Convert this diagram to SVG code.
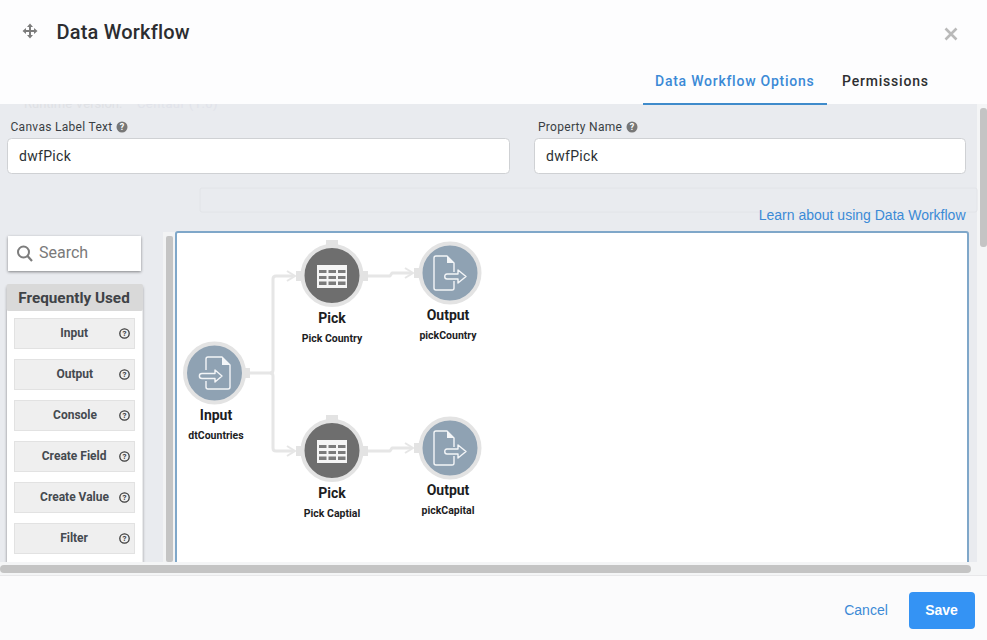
<svg xmlns="http://www.w3.org/2000/svg" width="987" height="640" viewBox="0 0 987 640">
<style>
text{font-family:Roboto,"Liberation Sans",sans-serif}
.conn{fill:none;stroke:#e6e6e6;stroke-width:3;stroke-linejoin:round}
.head{fill:none;stroke:#e6e6e6;stroke-width:2}
.port{fill:#e3e3e3}
.ring{stroke:#e3e3e3;stroke-width:4}
.t1{font-size:14px;font-weight:700;fill:#1d1d1f;text-anchor:middle}
.t2{font-size:10.5px;font-weight:700;fill:#1d1d1f;text-anchor:middle}
.ico{fill:none;stroke:#f4f6f8;stroke-width:1.4;stroke-linejoin:round}
.item{fill:#efefef;stroke:#e2e2e2;stroke-width:1}
.itxt{font-size:12px;font-weight:700;fill:#454a50;text-anchor:end}
.hlp{fill:none;stroke:#3c3c3c;stroke-width:1.3}
.hq{font-size:8px;font-weight:700;fill:#3c3c3c;text-anchor:middle}
.lbl{font-size:12px;fill:#3a3f44;letter-spacing:.3px}
.inp{fill:#fff;stroke:#cfd1d4;stroke-width:1}
.val{font-size:14px;fill:#2b2f33;letter-spacing:.3px}
.q{fill:#777}
.qt{font-size:9px;font-weight:700;fill:#fff;text-anchor:middle}
</style>
<defs>
<filter id="sh" x="-10%" y="-10%" width="120%" height="120%"><feDropShadow dx="0" dy="1" stdDeviation="1.500" flood-color="#000" flood-opacity=".45"/></filter>
<g id="doc-out"><path class="ico" d="M4 -1V-10L-3 -17H-14Q-16 -17 -16 -15V15Q-16 17 -14 17H2Q4 17 4 15V8"/><path d="M-3 -17L4 -10H-3Z" fill="#f4f6f8"/><path class="ico" d="M-3 1H8V-3L16 3.500L8 10V6H-3C-6 6 -6 1 -3 1Z"/></g>
<g id="grid"><rect x="-15" y="-11.500" width="30" height="23" fill="#f5f5f5"/><g fill="#7b7b7b"><rect x="-13" y="-6.500" width="7.500" height="3"/><rect x="-3.500" y="-6.500" width="7.500" height="3"/><rect x="6" y="-6.500" width="7.500" height="3"/><rect x="-13" y="-0.500" width="7.500" height="3"/><rect x="-3.500" y="-0.500" width="7.500" height="3"/><rect x="6" y="-0.500" width="7.500" height="3"/><rect x="-13" y="5" width="7.500" height="3.500"/><rect x="-3.500" y="5" width="7.500" height="3.500"/><rect x="6" y="5" width="7.500" height="3.500"/></g></g>
</defs>
<rect width="987" height="640" fill="#fdfdfe"/>
<g id="panel">
<rect x="0" y="104" width="987" height="458" fill="#e9ebef"/>
<text x="24" y="108" font-size="13" fill="#dfe1e5">Runtime Version:</text>
<text x="137" y="108" font-size="13" fill="#e1e3ea" letter-spacing=".4">Centaur (1.0)</text>
<rect x="0" y="90" width="640" height="14" fill="#fdfdfe"/>
<rect x="977" y="104" width="10" height="458" fill="#f4f5f6"/>
<rect x="980" y="108" width="7" height="139" rx="3" fill="#c4c4c4"/>
<rect x="200" y="188" width="777" height="24" rx="2" fill="#e9ebef" stroke="#e2e4e8"/>
</g>
<g id="header">
<path d="M30 23.500L33 27H31V30H34V28L37.500 31L34 34V32H31V35H33L30 38.500L27 35H29V32H26V34L22.500 31L26 28V30H29V27H27Z" fill="#7c7c7c"/>
<text x="56.500" y="39" font-size="20" font-weight="500" fill="#2c2d30" letter-spacing=".2">Data Workflow</text>
<path d="M945.500 28.500L956.500 39.500M956.500 28.500L945.500 39.500" stroke="#b9b9b9" stroke-width="2.600" fill="none"/>
</g>
<g id="tabs">
<text x="655" y="86" font-size="14" font-weight="500" fill="#3b8ad6" letter-spacing=".75">Data Workflow Options</text>
<rect x="643" y="103" width="184" height="2" fill="#3f8bcb"/>
<text x="842" y="86" font-size="14" font-weight="500" fill="#2e2f31" letter-spacing=".8">Permissions</text>
</g>
<g id="field-canvas-label">
<text class="lbl" x="10.500" y="131">Canvas Label Text</text>
<circle class="q" cx="122" cy="127" r="5.500"/><text class="qt" x="122" y="130">?</text>
<rect class="inp" x="7.500" y="138.500" width="502" height="35" rx="4"/>
<text class="val" x="19" y="161">dwfPick</text>
</g>
<g id="field-property-name">
<text class="lbl" x="538" y="131">Property Name</text>
<circle class="q" cx="632" cy="127" r="5.500"/><text class="qt" x="632" y="130">?</text>
<rect class="inp" x="534.500" y="138.500" width="431" height="35" rx="4"/>
<text class="val" x="546" y="161">dwfPick</text>
</g>
<text id="learn-link" x="965.500" y="220" font-size="14" fill="#3b8ad6" text-anchor="end" style="font-family:'Liberation Sans',sans-serif">Learn about using Data Workflow</text>
<g id="search">
<rect x="8" y="236" width="133" height="35" fill="#fff" filter="url(#sh)"/>
<circle cx="23.500" cy="252" r="5.500" fill="none" stroke="#7d7d7d" stroke-width="2"/>
<path d="M27.500 256L32 261" stroke="#7d7d7d" stroke-width="2.200"/>
<text x="39" y="258" font-size="16" fill="#7a7a7a">Search</text>
</g>
<g id="palette">
<rect x="7" y="286" width="135.500" height="290" fill="#fff" filter="url(#sh)"/>
<rect x="6.500" y="284" width="136.500" height="27" rx="2" fill="#d9d9d9"/>
<text x="74" y="303" font-size="15.300" font-weight="700" fill="#3f4347" text-anchor="middle">Frequently Used</text>
<g id="item-input"><rect class="item" x="14.500" y="318.500" width="120" height="30"/><text class="itxt" x="88" y="337">Input</text><circle class="hlp" cx="124.500" cy="333.500" r="4.700"/><text class="hq" x="124.500" y="336.300">?</text></g>
<g id="item-output"><rect class="item" x="14.500" y="359.500" width="120" height="30"/><text class="itxt" x="93" y="378">Output</text><circle class="hlp" cx="124.500" cy="374.500" r="4.700"/><text class="hq" x="124.500" y="377.300">?</text></g>
<g id="item-console"><rect class="item" x="14.500" y="400.500" width="120" height="30"/><text class="itxt" x="97" y="419">Console</text><circle class="hlp" cx="124.500" cy="415.500" r="4.700"/><text class="hq" x="124.500" y="418.300">?</text></g>
<g id="item-create-field"><rect class="item" x="14.500" y="441.500" width="120" height="30"/><text class="itxt" x="106.500" y="460">Create Field</text><circle class="hlp" cx="124.500" cy="456.500" r="4.700"/><text class="hq" x="124.500" y="459.300">?</text></g>
<g id="item-create-value"><rect class="item" x="14.500" y="482.500" width="120" height="30"/><text class="itxt" x="109" y="501">Create Value</text><circle class="hlp" cx="124.500" cy="497.500" r="4.700"/><text class="hq" x="124.500" y="500.300">?</text></g>
<g id="item-filter"><rect class="item" x="14.500" y="523.500" width="120" height="30"/><text class="itxt" x="88" y="542">Filter</text><circle class="hlp" cx="124.500" cy="538.500" r="4.700"/><text class="hq" x="124.500" y="541.300">?</text></g>
</g>
<g id="canvas">
<rect x="163" y="232" width="12" height="330" fill="#f2f3f4"/>
<rect x="166" y="236" width="7" height="326" rx="2" fill="#c4c4c4"/>
<path d="M176 570V234Q176 232 178 232H966Q968 232 968 234V570H176Z" fill="#fff" stroke="#7fa7c9" stroke-width="2"/>
</g>
<g id="connectors">
<path class="conn" d="M250 373H270Q273 373 273 370V279Q273 276 276 276H293"/>
<path class="conn" d="M270 373Q273 373 273 376V448Q273 451 276 451H293"/>
<path class="conn" d="M368 276H390L392 273H412"/>
<path class="conn" d="M368 451H390L392 448H412"/>
<path class="head" d="M287 271L295 276L287 281"/>
<path class="head" d="M287 446L295 451L287 456"/>
<path class="head" d="M405 268L413 273L405 278"/>
<path class="head" d="M405 443L413 448L405 453"/>
</g>
<g id="node-input">
<rect class="port" x="244" y="368" width="6" height="10"/>
<circle class="ring" cx="214.500" cy="373" r="29.500" fill="#8fa2b3"/>
<path class="ico" d="M206 370V359Q206 357 208 357H222L230 365V387Q230 389 228 389H208Q206 389 206 387V381"/>
<path d="M222 357L230 365H222Z" fill="#f4f6f8"/>
<path class="ico" d="M202 373.500H215V370L222 376L215 382V378.500H202C198.500 378.500 198.500 373.500 202 373.500Z"/>
<text class="t1" x="216" y="420">Input</text>
<text class="t2" x="216" y="439">dtCountries</text>
</g>
<g id="node-pick-country">
<rect class="port" x="326" y="240" width="12" height="6"/>
<rect class="port" x="296" y="271" width="6" height="10"/>
<rect class="port" x="362" y="271" width="6" height="10"/>
<circle class="ring" cx="332" cy="275.500" r="29.500" fill="#6e6e6e"/>
<use href="#grid" x="332" y="276.500"/>
<text class="t1" x="332" y="323">Pick</text>
<text class="t2" x="332" y="342">Pick Country</text>
</g>
<g id="node-output-country">
<rect class="port" x="414" y="268" width="6" height="10"/>
<circle class="ring" cx="450" cy="273" r="29.500" fill="#8fa2b3"/>
<use href="#doc-out" x="450" y="273"/>
<text class="t1" x="448" y="320">Output</text>
<text class="t2" x="448" y="339">pickCountry</text>
</g>
<g id="node-pick-capital">
<rect class="port" x="326" y="415" width="12" height="6"/>
<rect class="port" x="296" y="446" width="6" height="10"/>
<rect class="port" x="362" y="446" width="6" height="10"/>
<circle class="ring" cx="332" cy="450.500" r="29.500" fill="#6e6e6e"/>
<use href="#grid" x="332" y="451.500"/>
<text class="t1" x="332" y="498">Pick</text>
<text class="t2" x="332" y="517">Pick Captial</text>
</g>
<g id="node-output-capital">
<rect class="port" x="414" y="443" width="6" height="10"/>
<circle class="ring" cx="450" cy="448" r="29.500" fill="#8fa2b3"/>
<use href="#doc-out" x="450" y="448"/>
<text class="t1" x="448" y="495">Output</text>
<text class="t2" x="448" y="514">pickCapital</text>
</g>
<g id="footer">
<rect x="0" y="562" width="987" height="14" fill="#f4f5f6"/>
<rect x="0" y="565" width="971" height="8" rx="4" fill="#c4c4c4"/>
<rect x="0" y="575" width="987" height="1" fill="#e8e8ea"/>
<rect x="0" y="576" width="987" height="64" fill="#fbfbfc"/>
<text x="866" y="615" font-size="14" fill="#3b8ad6" text-anchor="middle" style="font-family:'Liberation Sans',sans-serif">Cancel</text>
<rect x="909" y="592" width="66" height="37" rx="4" fill="#3493f4"/>
<text x="941.500" y="615" font-size="14" font-weight="700" fill="#fff" text-anchor="middle" style="font-family:'Liberation Sans',sans-serif">Save</text>
</g>
</svg>
